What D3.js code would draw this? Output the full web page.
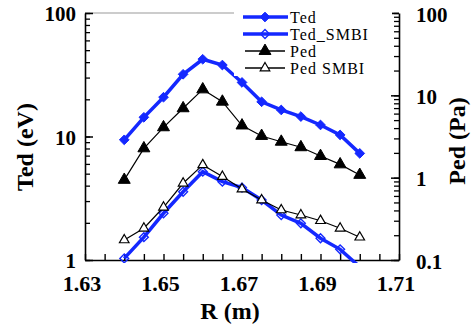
<!DOCTYPE html>
<html>
<head>
<meta charset="utf-8">
<script src="https://cdn.jsdelivr.net/npm/d3@7"></script>
<style>
  body { margin: 0; background: #fff; }
  svg { display: block; }
  text { font-family: "Liberation Serif", "Times New Roman", serif; }
</style>
</head>
<body>
<svg id="chart" width="472" height="329"></svg>
<script>
// data
const R = [1.64, 1.645, 1.65, 1.655, 1.66, 1.665, 1.67, 1.675, 1.68, 1.685, 1.69, 1.695, 1.70];
const ted      = [9.4, 14.3, 20.8, 31.9, 42.2, 37.9, 27.4, 19.1, 16.4, 14.5, 12.4, 10.3, 7.3];
const tedSMBI  = [1.03, 1.53, 2.39, 3.57, 5.19, 4.31, 3.86, 3.06, 2.31, 1.98, 1.50, 1.22, 0.88];
const ped      = [0.94, 2.27, 4.09, 6.96, 11.8, 8.37, 4.30, 3.21, 2.73, 2.34, 1.83, 1.45, 1.08];
const pedSMBI  = [0.175, 0.243, 0.437, 0.855, 1.43, 1.03, 0.728, 0.535, 0.405, 0.352, 0.300, 0.243, 0.189];

const xLabels = [1.63, 1.65, 1.67, 1.69, 1.71];
const leftLabels = [1, 10, 100];
const rightLabels = [0.1, 1, 10, 100];
const legendNames = ["Ted", "Ted_SMBI", "Ped", "Ped SMBI"];

const blue = "#1428ff";
const mLeft = 85, mRight = 399, mTop = 13, mBottom = 260;

const svg = d3.select("#chart");

const x = d3.scaleLinear().domain([1.63, 1.71]).range([mLeft, mRight]);
const yL = d3.scaleLog().domain([1, 100]).range([mBottom, mTop]);
const yR = d3.scaleLog().domain([0.1, 100]).range([mBottom, mTop]);

// clip for data
svg.append("clipPath").attr("id", "plotclip")
  .append("rect").attr("x", mLeft).attr("y", mTop - 10).attr("width", mRight - mLeft).attr("height", mBottom - mTop + 13);

// top frame line (gray)
svg.append("line")
  .attr("x1", mLeft).attr("x2", mRight).attr("y1", mTop).attr("y2", mTop)
  .attr("stroke", "#999").attr("stroke-width", 1.2);

// x axis
const xMinor = d3.range(0, 17).map(i => 1.63 + i * 0.005);
const xAxis = svg.append("g").attr("transform", `translate(0,${mBottom})`)
  .call(d3.axisBottom(x).tickValues(xMinor).tickSize(-6).tickSizeOuter(0).tickFormat(""));
xAxis.select(".domain").attr("stroke-width", 1.6);
xAxis.selectAll(".tick line").attr("stroke-width", 1.4);

svg.append("g").selectAll("text").data(xLabels).join("text")
  .attr("x", d => x(d) - 3).attr("y", 291)
  .attr("text-anchor", "middle")
  .attr("font-size", 22).attr("font-weight", "bold")
  .text(d => d.toFixed(2));

// left axis
const lAxisMinor = svg.append("g").attr("transform", `translate(${mLeft},0)`)
  .call(d3.axisLeft(yL).tickValues(yL.ticks()).tickSize(-5).tickSizeOuter(0).tickFormat(""));
lAxisMinor.select(".domain").attr("stroke-width", 1.6);
lAxisMinor.selectAll(".tick line").attr("stroke-width", 1.3);
svg.append("g").attr("transform", `translate(${mLeft},0)`)
  .call(d3.axisLeft(yL).tickValues(leftLabels).tickSize(-8).tickSizeOuter(0).tickFormat(""))
  .call(g => g.select(".domain").remove())
  .selectAll(".tick line").attr("stroke-width", 1.5);

svg.append("g").selectAll("text").data(leftLabels).join("text")
  .attr("x", 76).attr("y", d => yL(d) + 8)
  .attr("text-anchor", "end")
  .attr("font-size", 21).attr("font-weight", "bold")
  .text(d => d);

// right axis
const rAxisMinor = svg.append("g").attr("transform", `translate(${mRight},0)`)
  .call(d3.axisRight(yR).tickValues(yR.ticks()).tickSize(-5).tickSizeOuter(0).tickFormat(""));
rAxisMinor.select(".domain").attr("stroke-width", 1.6);
rAxisMinor.selectAll(".tick line").attr("stroke-width", 1.3);
svg.append("g").attr("transform", `translate(${mRight},0)`)
  .call(d3.axisRight(yR).tickValues(rightLabels).tickSize(-8).tickSizeOuter(0).tickFormat(""))
  .call(g => g.select(".domain").remove())
  .selectAll(".tick line").attr("stroke-width", 1.5);

svg.append("g").selectAll("text").data(rightLabels).join("text")
  .attr("x", 416).attr("y", d => yR(d) + 8.5)
  .attr("font-size", 21).attr("font-weight", "bold")
  .text(d => d);

// axis titles
svg.append("text")
  .attr("x", 230).attr("y", 319)
  .attr("text-anchor", "middle")
  .attr("font-size", 24).attr("font-weight", "bold")
  .text("R (m)");

svg.append("text")
  .attr("transform", "translate(33,147) rotate(-90)")
  .attr("text-anchor", "middle")
  .attr("font-size", 24).attr("font-weight", "bold")
  .text("Ted (eV)");

svg.append("text")
  .attr("transform", "translate(465,141) rotate(-90)")
  .attr("text-anchor", "middle")
  .attr("font-size", 24).attr("font-weight", "bold")
  .text("Ped (Pa)");

// symbols
const diamond = d3.symbol().type(d3.symbolDiamond2).size(60);
const diamondOpen = d3.symbol().type(d3.symbolDiamond2).size(50);
const tri = d3.symbol().type(d3.symbolTriangle).size(62);
const triOpen = d3.symbol().type(d3.symbolTriangle).size(40);

const series = [
  { vals: ted, y: yL, color: blue, lw: 3.5, sym: diamond, fill: blue, mstroke: blue, msw: 1 },
  { vals: tedSMBI, y: yL, color: blue, lw: 3.5, sym: diamondOpen, fill: "none", mstroke: blue, msw: 1.4 },
  { vals: ped, y: yR, color: "#000", lw: 1.2, sym: tri, fill: "#000", mstroke: "#000", msw: 1 },
  { vals: pedSMBI, y: yR, color: "#000", lw: 1.2, sym: triOpen, fill: "#fff", mstroke: "#000", msw: 1.2 }
];

const plot = svg.append("g").attr("clip-path", "url(#plotclip)");

series.forEach(s => {
  const pts = R.map((r, i) => [r, s.vals[i]]);
  plot.append("path")
    .datum(pts)
    .attr("fill", "none")
    .attr("stroke", s.color)
    .attr("stroke-width", s.lw)
    .attr("d", d3.line().x(d => x(d[0])).y(d => s.y(d[1])));
  plot.append("g").selectAll("path").data(pts.filter(d => s.y(d[1]) <= mBottom + 1)).join("path")
    .attr("transform", d => `translate(${x(d[0])},${s.y(d[1])})`)
    .attr("d", s.sym())
    .attr("fill", s.fill)
    .attr("stroke", s.mstroke)
    .attr("stroke-width", s.msw);
});

// legend
const legend = svg.append("g");
legend.append("rect")
  .attr("x", 234).attr("y", 0).attr("width", 158).attr("height", 76)
  .attr("fill", "#fff");

const rowY = [17, 34, 51, 68];
series.forEach((s, i) => {
  const ly = rowY[i];
  const x1 = s.lw > 2 ? 243 : 245, x2 = s.lw > 2 ? 288 : 285;
  legend.append("line")
    .attr("x1", x1).attr("x2", x2).attr("y1", ly).attr("y2", ly)
    .attr("stroke", s.color).attr("stroke-width", s.lw > 2 ? 3.5 : 1.4);
  legend.append("path")
    .attr("transform", `translate(265,${ly})`)
    .attr("d", s.sym())
    .attr("fill", s.fill)
    .attr("stroke", s.mstroke)
    .attr("stroke-width", s.msw);
  legend.append("text")
    .attr("x", 290).attr("y", ly + 6)
    .attr("font-size", 16)
    .attr("letter-spacing", 1)
    .text(legendNames[i]);
});
</script>
</body>
</html>
